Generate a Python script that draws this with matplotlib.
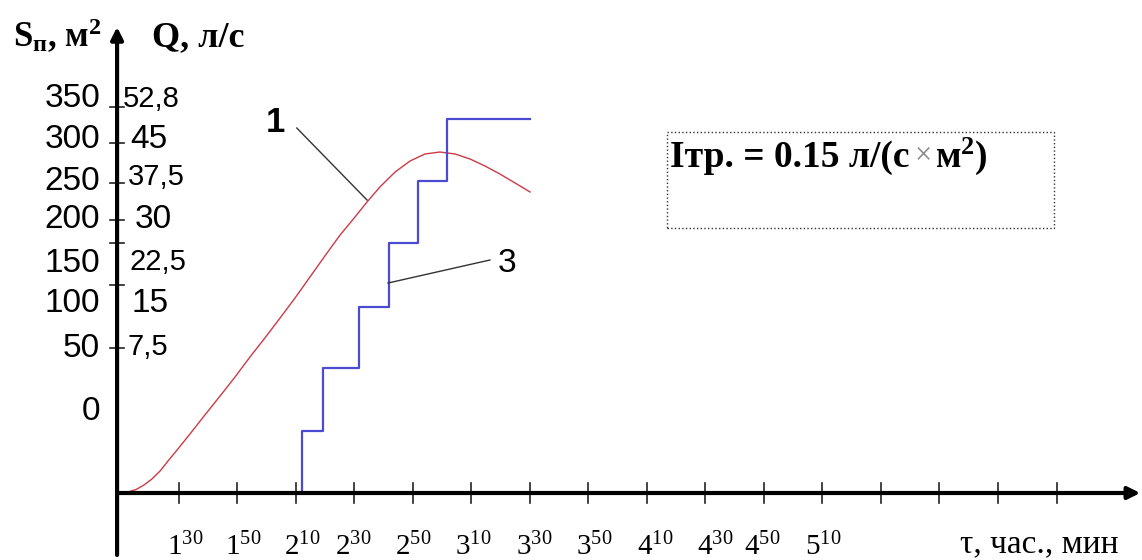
import matplotlib.pyplot as plt
from matplotlib.patches import Rectangle

plt.rcParams['mathtext.fontset'] = 'custom'
plt.rcParams['mathtext.rm'] = 'Liberation Serif'
plt.rcParams['mathtext.bf'] = 'Liberation Serif:bold'
plt.rcParams['mathtext.it'] = 'Liberation Serif:italic'

# ось времени: минуты от начала суток, ось ординат: условные единицы схемы
x_ticks = [90, 110, 130, 150, 170, 190, 210, 230, 250, 270, 290, 310, 330, 350, 370, 390]
x_tick_labels = ['$1^{30}$', '$1^{50}$', '$2^{10}$', '$2^{30}$', '$2^{50}$', '$3^{10}$',
                 '$3^{30}$', '$3^{50}$', '$4^{10}$', '$4^{30}$', '$4^{50}$', '$5^{10}$']
x_label_pos = [92.2, 112.0, 132.2, 149.6, 170.1, 190.6, 211.4, 231.9, 252.8, 273.3, 289.3, 310.2]

y_ticks = [386, 350, 310, 273, 250, 208, 145]
s_labels = ['350', '300', '250', '200', '150', '100', '50', '0']
s_label_pos = [386, 345, 303, 265, 221, 181, 136, 73]
q_labels = ['52,8', '45', '37,5', '30', '22,5', '15', '7,5']
q_label_pos = [386, 345, 308, 265, 223, 181, 138]
q_label_x = [71.0, 73.4, 72.7, 75.1, 73.4, 74.1, 72.7]

# кривая 1 - площадь пожара
t_area = [70, 72.7, 75.5, 78.2, 80.9, 83.7, 86.4, 89.5, 93.9, 99.0, 104.2, 109.3,
          114.4, 119.5, 124.7, 129.8, 134.9, 140.0, 145.2, 150.3, 154.4, 158.8,
          164.0, 169.1, 174.2, 179.3, 184.5, 189.6, 194.7, 199.8, 205.0, 210.1]
s_area = [0, 1, 3.5, 8, 14, 22, 32, 43, 59, 78, 97, 116,
          136, 155, 175, 195, 216, 237, 258, 276, 291, 306,
          321, 332, 339, 341, 339, 334, 327, 319, 310, 301]

# кривая 3 - расход воды (ступенчатая)
t_flow = [132.2, 132.2, 139.4, 151.7, 161.9, 171.8, 181.7, 210.1]
q_flow = [0, 62, 125, 186, 250, 312, 374, 374]


def plot_fire_diagram():
    fig = plt.figure(figsize=(11.42, 5.6), dpi=100)
    ax = fig.add_axes([0, 0, 1, 1])
    ax.set_xlim(29.0, 419.2)
    ax.set_ylim(-67, 493)
    ax.axis('off')

    # оси со стрелками
    arrow = dict(arrowstyle='-|>', lw=3, color='black', mutation_scale=18,
                 shrinkA=0, shrinkB=0)
    ax.annotate('', xy=(418.6, 0), xytext=(69, 0), arrowprops=arrow)
    ax.annotate('', xy=(69, 466), xytext=(69, -62), arrowprops=arrow)

    for t in x_ticks:
        ax.plot([t, t], [-10, 10], color='#222222', lw=1.2)
    for y in y_ticks:
        ax.plot([66.5, 71.5], [y, y], color='#222222', lw=1.2)

    for lab, t in zip(x_tick_labels, x_label_pos):
        ax.text(t, -62, lab, ha='center', va='baseline', fontsize=21)
    ax.text(357.0, -59, 'τ, час., мин', ha='left', va='baseline', fontsize=24,
            family='Liberation Serif')

    for lab, y in zip(s_labels, s_label_pos):
        ax.text(63.2, y, lab, ha='right', va='baseline', fontsize=24,
                family='Liberation Sans')
    for lab, y, x in zip(q_labels, q_label_pos, q_label_x):
        size = 21 if ',' in lab else 24
        ax.text(x, y, lab, ha='left', va='baseline', fontsize=size,
                family='Liberation Sans')

    ax.text(33.4, 446, r'S$_{\mathbf{п}}$, м$^{\mathbf{2}}$', ha='left', va='baseline',
            fontsize=25, fontweight='bold', family='Liberation Serif')
    ax.text(80.9, 447, 'Q, л/с', ha='left', va='baseline', fontsize=26,
            fontweight='bold', family='Liberation Serif')

    # кривые
    ax.plot(t_area, s_area, color='#cc3b45', lw=1.0)
    ax.step(t_flow, q_flow, where='post', color='#4a4ad2', lw=1.6)

    # выноски
    ax.text(123.0, 371, '1', ha='center', va='center', fontsize=25,
            fontweight='bold', family='Liberation Sans')
    ax.plot([130.4, 154.4], [365, 293], color='#333333', lw=1.0)
    ax.text(202.2, 230, '3', ha='center', va='center', fontsize=24,
            family='Liberation Sans')
    ax.plot([196.4, 161.6], [233, 210], color='#333333', lw=1.0)

    # рамка с интенсивностью
    ax.add_patch(Rectangle((256.9, 265), 132.2, 96, fill=False, ls=':',
                           lw=1.0, ec='#333333'))
    ax.text(258.0, 326, 'Iтр. = 0.15 л/(с', ha='left', va='baseline',
            fontsize=27, fontweight='bold', family='Liberation Serif')
    ax.text(344.6, 330, '×', ha='center', va='baseline', fontsize=22,
            color='#888888', family='Liberation Serif')
    ax.text(348.6, 326, r'м$^{\mathbf{2}}$)', ha='left', va='baseline',
            fontsize=27, fontweight='bold', family='Liberation Serif')

    fig.savefig('out.png', dpi=100)


if __name__ == '__main__':
    plot_fire_diagram()
